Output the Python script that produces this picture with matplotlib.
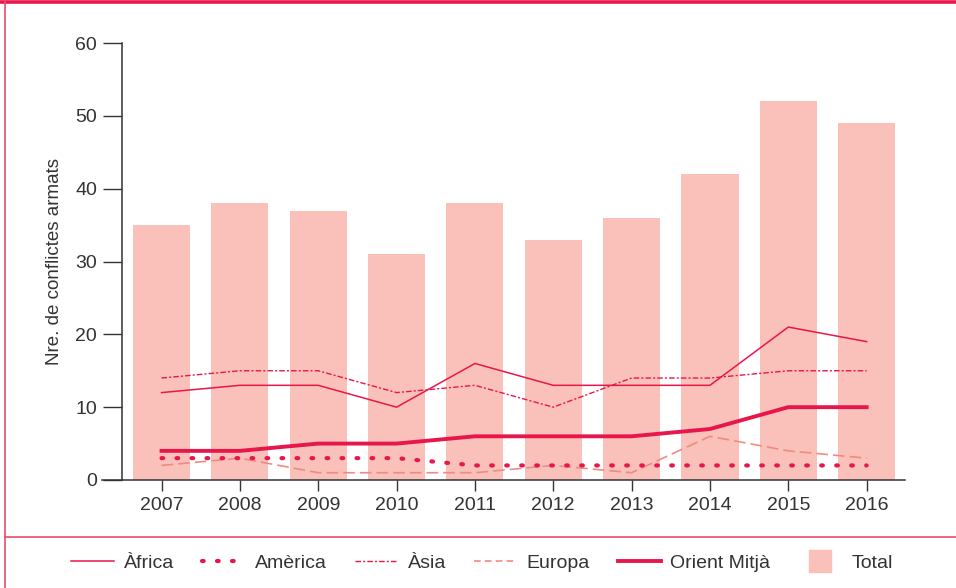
import matplotlib
matplotlib.use("Agg")
import matplotlib.pyplot as plt
from matplotlib.lines import Line2D

plt.rcParams['font.family'] = ['Liberation Sans', 'DejaVu Sans']

years = [2007, 2008, 2009, 2010, 2011, 2012, 2013, 2014, 2015, 2016]
total = [35, 38, 37, 31, 38, 33, 36, 42, 52, 49]
africa = [12, 13, 13, 10, 16, 13, 13, 13, 21, 19]
america = [3, 3, 3, 3, 2, 2, 2, 2, 2, 2]
asia = [14, 15, 15, 12, 13, 10, 14, 14, 15, 15]
europa = [2, 3, 1, 1, 1, 2, 1, 6, 4, 3]
orient = [4, 4, 5, 5, 6, 6, 6, 7, 10, 10]

red = '#E8174B'
bar_col = '#F9C1B9'
eur_col = '#F08A82'
txt = '#333333'

fig = plt.figure(figsize=(9.56, 5.88), dpi=100)
ax = fig.add_axes([102 / 956, 108 / 588, 803 / 956, 437 / 588])

ax.bar(years, total, width=0.73, color=bar_col, zorder=1)
ax.plot(years, europa, color=eur_col, lw=1.2, dashes=(7, 3), zorder=2)
ax.plot(years, africa, color=red, lw=1.1, zorder=3)
ax.plot(years, asia, color=red, lw=1.0, dashes=(4, 1.5, 1.5, 1.5), zorder=3)
ax.plot(years, america, color=red, lw=3.0, dashes=(0.4, 3.2),
        dash_capstyle='round', zorder=3)
ax.plot(years, orient, color=red, lw=2.8, zorder=4)

ax.set_xlim(2006.24, 2016.49)
ax.set_ylim(0, 60)
ax.set_xticks(years)
ax.set_yticks(range(0, 61, 10))

for s in ['top', 'right']:
    ax.spines[s].set_visible(False)
ax.spines['left'].set_position(('data', 2006.495))
ax.spines['left'].set_color(txt)
ax.spines['bottom'].set_color(txt)
ax.spines['left'].set_linewidth(1.1)
ax.spines['bottom'].set_linewidth(1.1)
ax.tick_params(axis='y', length=14, width=1.0, color=txt, labelcolor=txt,
               labelsize=14, pad=4)
ax.tick_params(axis='x', length=8, width=1.0, color=txt, labelcolor=txt,
               labelsize=14, pad=4)
ax.set_ylabel('Nre. de conflictes armats', fontsize=13.5, color=txt,
              labelpad=9)

handles = [
    Line2D([], [], color=red, lw=1.1),
    Line2D([], [], color=red, lw=3.0, dashes=(0.4, 3.2), dash_capstyle='round'),
    Line2D([], [], color=red, lw=1.0, dashes=(4, 1.5, 1.5, 1.5)),
    Line2D([], [], color=eur_col, lw=1.2, dashes=(4, 2.5)),
    Line2D([], [], color=red, lw=2.8),
    Line2D([], [], color=bar_col, marker='s', ls='', ms=16),
]
labels = ['Àfrica', 'Amèrica', 'Àsia', 'Europa', 'Orient Mitjà', 'Total']
leg = fig.legend(handles, labels, loc='center', bbox_to_anchor=(482 / 956, 1 - 563 / 588),
                 ncol=6, frameon=False, fontsize=14, handlelength=2.2,
                 handletextpad=0.5, columnspacing=1.45)
for t in leg.get_texts():
    t.set_color(txt)

# frame lines
fig.add_artist(Line2D([0, 1], [1 - 1.5 / 588, 1 - 1.5 / 588], color=red, lw=2.6))
fig.add_artist(Line2D([5 / 956, 5 / 956], [0, 1], color='#EC4A6E', lw=1.2))
fig.add_artist(Line2D([5 / 956, 1], [1 - 537 / 588, 1 - 537 / 588], color='#EC4A6E', lw=1.2))

fig.savefig('out.png', dpi=100)
